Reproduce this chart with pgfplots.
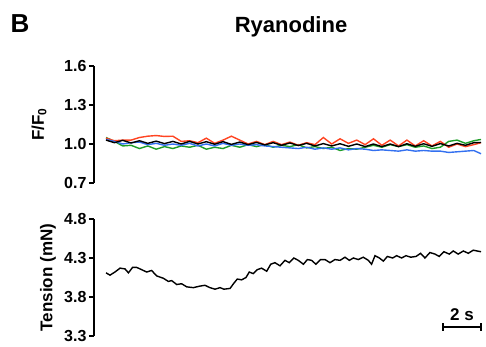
\documentclass[border=0pt]{standalone}
\usepackage{fontspec}
\setmainfont{Liberation Sans}
\usepackage{pgfplots}
\pgfplotsset{compat=1.18}
\usepackage{pgfplotstable}
\definecolor{tred}{HTML}{FF4422}
\definecolor{tgreen}{HTML}{1E9E28}
\definecolor{tblue}{HTML}{3370F0}

\pgfplotstableread{
t black red green blue
0.00 1.030 1.045 1.050 1.035
0.44 1.010 1.025 1.020 1.020
0.88 1.028 1.030 0.985 1.000
1.32 1.008 1.030 0.990 1.010
1.76 1.025 1.050 0.965 1.015
2.20 1.005 1.060 0.985 0.995
2.64 1.022 1.065 0.960 1.005
3.08 1.003 1.058 0.980 0.990
3.52 1.020 1.060 0.965 1.000
3.96 1.000 1.020 0.985 0.990
4.40 1.020 1.025 0.975 1.005
4.84 1.000 1.010 0.990 0.985
5.28 1.018 1.045 0.960 1.000
5.72 0.998 1.005 0.975 0.985
6.16 1.018 1.030 0.965 1.005
6.60 0.997 1.060 0.990 0.990
7.04 1.015 1.030 0.975 1.000
7.48 0.995 1.000 0.995 0.990
7.92 1.012 1.020 0.980 0.995
8.36 0.993 0.995 0.995 0.985
8.80 1.010 1.020 0.975 0.980
9.24 0.990 0.995 0.990 0.975
9.68 1.008 1.015 0.980 0.970
10.12 0.988 0.990 0.995 0.965
10.56 1.005 1.010 0.970 0.975
11.00 0.985 0.995 0.980 0.960
11.44 1.003 1.050 0.965 0.970
11.88 0.985 1.000 0.975 0.960
12.32 1.002 1.040 0.950 0.970
12.76 0.982 1.005 0.965 0.955
13.20 1.000 1.030 0.960 0.965
13.64 0.980 0.995 0.975 0.960
14.08 1.000 1.040 0.990 0.950
14.52 0.980 0.990 0.975 0.955
14.96 1.000 1.030 0.995 0.950
15.40 0.980 0.985 0.980 0.945
15.84 1.002 1.030 0.995 0.955
16.28 0.982 0.985 0.975 0.945
16.72 1.002 1.025 0.985 0.950
17.16 0.982 0.985 0.965 0.945
17.60 1.003 1.020 0.975 0.945
18.04 0.985 0.975 1.020 0.935
18.48 1.005 1.000 1.030 0.940
18.92 0.990 0.980 1.005 0.945
19.36 1.010 0.995 1.025 0.950
19.74 1.012 1.010 1.035 0.925
}\fluo

\pgfplotstableread{
t tension
0.00 4.11
0.21 4.08
0.47 4.12
0.74 4.17
1.00 4.16
1.18 4.11
1.40 4.18
1.61 4.18
1.88 4.15
2.14 4.12
2.40 4.14
2.67 4.07
3.02 4.04
3.28 4.00
3.46 4.01
3.72 3.96
3.98 3.97
4.25 3.93
4.60 3.92
4.95 3.94
5.21 3.95
5.47 3.92
5.74 3.90
6.00 3.92
6.21 3.90
6.53 3.91
6.74 3.98
6.91 4.03
7.14 4.02
7.37 4.05
7.54 4.12
7.75 4.10
7.96 4.15
8.19 4.17
8.46 4.13
8.67 4.22
8.89 4.24
9.16 4.20
9.42 4.27
9.65 4.24
9.89 4.30
10.12 4.27
10.39 4.22
10.60 4.28
10.82 4.27
11.05 4.22
11.30 4.28
11.53 4.28
11.79 4.24
12.05 4.28
12.32 4.27
12.58 4.31
12.81 4.27
13.02 4.30
13.28 4.28
13.54 4.31
13.81 4.27
13.98 4.22
14.16 4.33
14.39 4.30
14.60 4.26
14.81 4.32
15.09 4.30
15.30 4.33
15.56 4.30
15.79 4.33
16.04 4.31
16.32 4.32
16.56 4.36
16.79 4.30
17.05 4.37
17.32 4.35
17.54 4.32
17.79 4.38
18.07 4.35
18.28 4.39
18.54 4.35
18.81 4.39
19.07 4.36
19.33 4.40
19.74 4.38
}\tension

\pgfplotsset{
  trace/.style={
    scale only axis,
    width=387pt, height=117pt,
    xmin=-0.632, xmax=19.74,
    axis x line=none,
    axis y line*=left,
    axis line style={line width=1.6pt},
    ytick style={line width=1.6pt, black},
    tick align=outside,
    major tick length=5pt,
    yticklabel style={font=\bfseries\fontsize{16}{16}\selectfont, xshift=1pt},
    /pgf/number format/assume math mode=true,
    ylabel style={font=\bfseries\fontsize{17}{17}\selectfont, anchor=center, rotate=0},
    anchor=south west,
    clip=false,
  }
}

\begin{document}
\begin{tikzpicture}
\path[use as bounding box] (0pt,0pt) rectangle (486pt,347pt);
\node[font=\bfseries\fontsize{26}{26}\selectfont] at (20pt,323pt) {B};
\node[font=\bfseries\fontsize{22}{22}\selectfont] at (291pt,320pt) {Ryanodine};

\begin{axis}[trace, at={(94pt,164pt)},
  ymin=0.7, ymax=1.6,
  ytick={0.7,1.0,1.3,1.6},
  yticklabels={0.7,1.0,1.3,1.6},
  ylabel={F/F$_{\mathbf{0}}$},
  ylabel style={at={(axis description cs:-0.142,0.5)}},
]
\addplot[tgreen, line width=1.4pt] table[x=t, y=green] {\fluo};
\addplot[tred, line width=1.4pt] table[x=t, y=red] {\fluo};
\addplot[tblue, line width=1.4pt] table[x=t, y=blue] {\fluo};
\addplot[black, line width=1.4pt] table[x=t, y=black] {\fluo};
\end{axis}

\begin{axis}[trace, at={(94pt,11pt)},
  ymin=3.3, ymax=4.8,
  ytick={3.3,3.8,4.3,4.8},
  yticklabels={3.3,3.8,4.3,4.8},
  ylabel={Tension (mN)},
  ylabel style={at={(axis description cs:-0.119,0.5)}},
]
\addplot[black, line width=1.4pt] table[x=t, y=tension] {\tension};
\draw[line width=1.6pt] (axis cs:17.74,3.415) -- (axis cs:19.74,3.415);
\draw[line width=1.6pt] (axis cs:17.74,3.365) -- (axis cs:17.74,3.465);
\draw[line width=1.6pt] (axis cs:19.74,3.365) -- (axis cs:19.74,3.465);
\node[font=\bfseries\fontsize{17}{17}\selectfont] at (axis cs:18.74,3.57) {2 s};
\end{axis}
\end{tikzpicture}
\end{document}
